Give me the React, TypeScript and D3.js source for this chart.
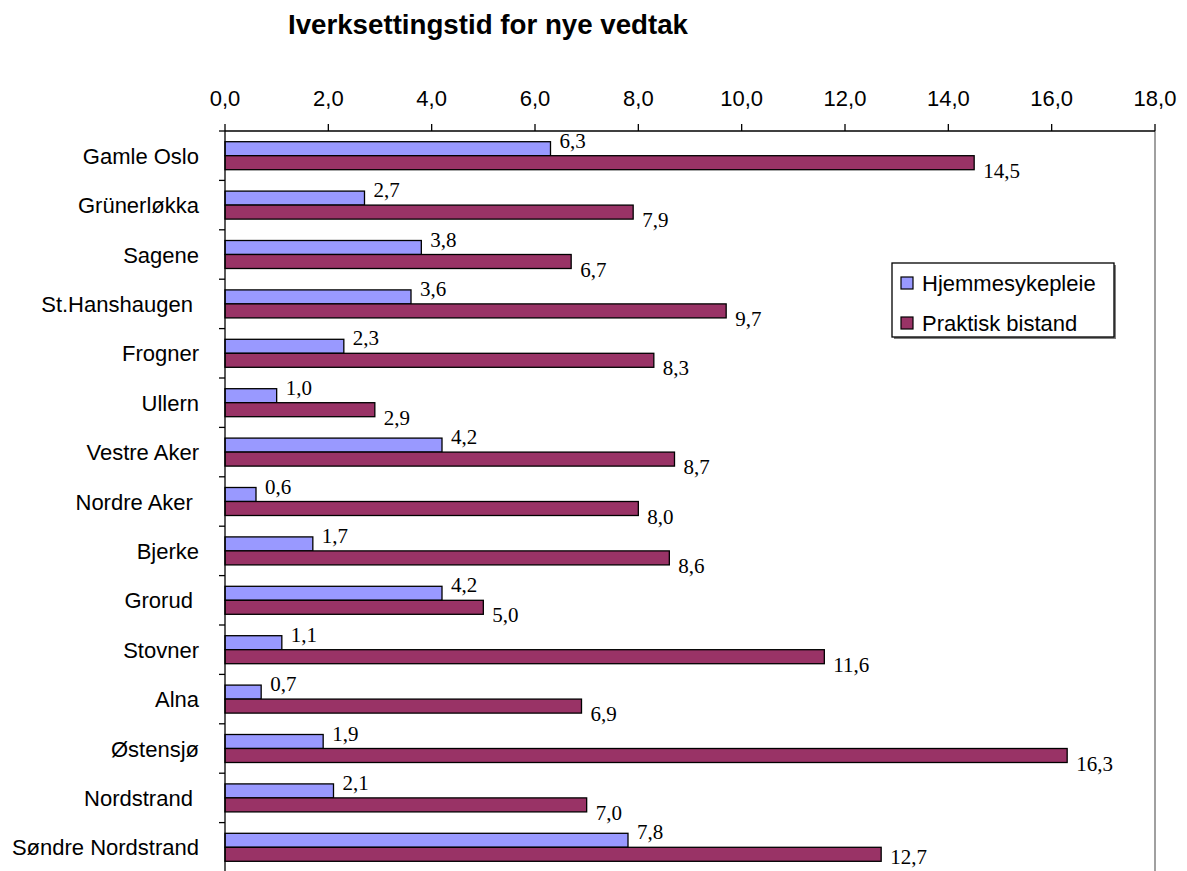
import * as d3 from 'd3'

const categories = [
  'Gamle Oslo',
  'Grünerløkka',
  'Sagene',
  'St.Hanshaugen ',
  'Frogner',
  'Ullern',
  'Vestre Aker',
  'Nordre Aker ',
  'Bjerke',
  'Grorud ',
  'Stovner',
  'Alna',
  'Østensjø',
  'Nordstrand ',
  'Søndre Nordstrand',
]
const hjemmesykepleie = [6.3, 2.7, 3.8, 3.6, 2.3, 1.0, 4.2, 0.6, 1.7, 4.2, 1.1, 0.7, 1.9, 2.1, 7.8]
const praktiskBistand = [14.5, 7.9, 6.7, 9.7, 8.3, 2.9, 8.7, 8.0, 8.6, 5.0, 11.6, 6.9, 16.3, 7.0, 12.7]
const seriesNames = ['Hjemmesykepleie', 'Praktisk bistand']
const xTicks = [0, 2, 4, 6, 8, 10, 12, 14, 16, 18]

const W = 1187
const H = 871
const sans = '"Liberation Sans", Arial, sans-serif'
const serif = '"Liberation Serif", "Times New Roman", serif'
const colors = ['#9999FF', '#993366']

const fmt = (v: number) => d3.format('.1f')(v).replace('.', ',')

export default function App() {
  const top = 131
  const x = d3.scaleLinear().domain([0, 18]).range([225, 1155])
  const y = d3
    .scaleBand<number>()
    .domain(d3.range(categories.length))
    .range([top, top + 49.4 * categories.length])
  const bw = y.bandwidth()
  const inner = d3
    .scaleBand<number>()
    .domain([0, 1])
    .range([bw / 2 - 14, bw / 2 + 14])

  const series = [hjemmesykepleie, praktiskBistand]
  const bottom = top + 49.4 * categories.length

  return (
    <svg
      width={W}
      height={H}
      style={{ position: 'absolute', left: 0, top: 0, background: '#fff' }}
    >
      <rect width={W} height={H} fill="#fff" />
      <text
        x={488}
        y={34}
        textAnchor="middle"
        fontFamily={sans}
        fontWeight="bold"
        fontSize={27.7}
      >
        Iverksettingstid for nye vedtak
      </text>

      {/* right border of the plot area */}
      <line x1={x(18)} x2={x(18)} y1={top} y2={bottom} stroke="#808080" strokeWidth={1.5} />

      {/* bars */}
      {series.map((vals, s) =>
        vals.map((v, i) => (
          <rect
            key={`${s}-${i}`}
            x={x(0)}
            y={(y(i) ?? 0) + (inner(s) ?? 0)}
            width={x(v) - x(0)}
            height={inner.bandwidth()}
            fill={colors[s]}
            stroke="#000"
            strokeWidth={1.3}
          />
        ))
      )}

      {/* value labels */}
      {series.map((vals, s) =>
        vals.map((v, i) => {
          const c = (y(i) ?? 0) + bw / 2
          return (
            <text
              key={`l${s}-${i}`}
              x={x(v) + 9}
              y={s === 0 ? c - 8 : Math.min(c + 22, H - 7)}
              fontFamily={serif}
              fontSize={21}
            >
              {fmt(v)}
            </text>
          )
        })
      )}

      {/* top axis */}
      <line x1={x(0)} x2={x(18)} y1={top} y2={top} stroke="#000" strokeWidth={1.3} />
      {xTicks.map((t) => (
        <g key={t}>
          <line x1={x(t)} x2={x(t)} y1={top - 7} y2={top} stroke="#000" strokeWidth={1.3} />
          <text
            x={x(t)}
            y={106}
            textAnchor="middle"
            fontFamily={sans}
            fontSize={22}
          >
            {fmt(t)}
          </text>
        </g>
      ))}

      {/* category axis */}
      <line x1={x(0)} x2={x(0)} y1={top} y2={bottom} stroke="#000" strokeWidth={1.3} />
      {d3.range(categories.length + 1).map((i) => (
        <line
          key={i}
          x1={x(0) - 6}
          x2={x(0)}
          y1={top + i * bw}
          y2={top + i * bw}
          stroke="#000"
          strokeWidth={1.3}
        />
      ))}
      {categories.map((c, i) => (
        <text
          key={c}
          x={199}
          y={(y(i) ?? 0) + bw / 2 + 8}
          textAnchor="end"
          fontFamily={sans}
          fontSize={22}
          style={{ whiteSpace: 'pre' }}
        >
          {c}
        </text>
      ))}

      {/* legend */}
      <g>
        <rect x={894} y={265} width={222} height={74} fill="#808080" />
        <rect x={892} y={263} width={222} height={74} fill="#fff" stroke="#000" strokeWidth={1.3} />
        {seriesNames.map((n, i) => (
          <g key={n}>
            <rect
              x={901}
              y={277 + i * 40}
              width={12}
              height={12}
              fill={colors[i]}
              stroke="#000"
              strokeWidth={1.2}
            />
            <text x={922} y={291 + i * 40} fontFamily={sans} fontSize={22}>
              {n}
            </text>
          </g>
        ))}
      </g>
    </svg>
  )
}
